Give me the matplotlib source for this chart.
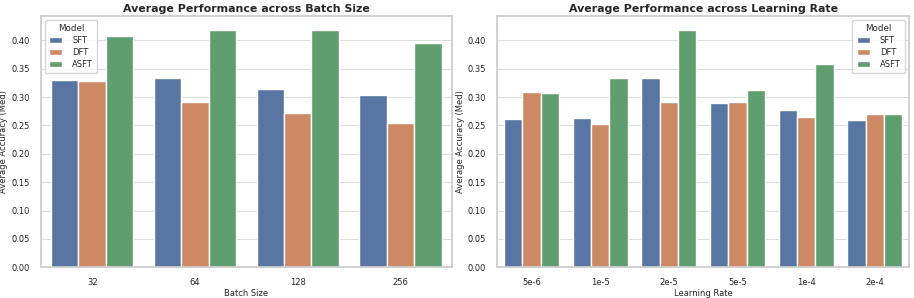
import matplotlib
matplotlib.use("Agg")
import matplotlib.pyplot as plt
import numpy as np
import pandas as pd
import seaborn as sns

models = ["SFT", "DFT", "ASFT"]

batch_sizes = ["32", "64", "128", "256"]
bs_sft = [0.330, 0.333, 0.315, 0.303]
bs_dft = [0.329, 0.291, 0.272, 0.254]
bs_asft = [0.408, 0.419, 0.419, 0.395]

learning_rates = ["5e-6", "1e-5", "2e-5", "5e-5", "1e-4", "2e-4"]
lr_sft = [0.262, 0.263, 0.333, 0.290, 0.277, 0.260]
lr_dft = [0.309, 0.253, 0.291, 0.292, 0.265, 0.271]
lr_asft = [0.308, 0.334, 0.419, 0.312, 0.359, 0.270]

sns.set_theme(style="whitegrid")
plt.rcParams['font.family'] = ['DejaVu Sans']

def make_df(cats, sft, dft, asft, col):
    rows = []
    for name, vals in zip(models, [sft, dft, asft]):
        for c, v in zip(cats, vals):
            rows.append({col: c, "Model": name, "Acc": v})
    return pd.DataFrame(rows)

fig = plt.figure(figsize=(9.14, 2.98), dpi=100)
ax1 = fig.add_axes([40.7/914, 1 - 267.3/298, (452 - 40.7)/914, (267.3 - 16)/298])
ax2 = fig.add_axes([497.3/914, 1 - 267.3/298, (909 - 497.3)/914, (267.3 - 16)/298])

df1 = make_df(batch_sizes, bs_sft, bs_dft, bs_asft, "Batch Size")
df2 = make_df(learning_rates, lr_sft, lr_dft, lr_asft, "Learning Rate")

for ax, df, col, title, loc in [
    (ax1, df1, "Batch Size", "Average Performance across Batch Size", "upper left"),
    (ax2, df2, "Learning Rate", "Average Performance across Learning Rate", "upper right"),
]:
    sns.barplot(data=df, x=col, y="Acc", hue="Model", ax=ax, errorbar=None,
                edgecolor="white", linewidth=1)
    ax.set_title(title, fontsize=7.9, fontweight="bold", pad=3)
    ax.set_xlabel(col, fontsize=6, labelpad=1)
    ax.set_ylabel("Average Accuracy (Med)", fontsize=6, labelpad=2)
    ax.tick_params(axis="both", labelsize=6, pad=2)
    ax.set_yticks(np.arange(0, 0.41, 0.05))
    ax.set_ylim(0, 0.443)
    ax.grid(axis="y", color="#dddddd", linewidth=0.8)
    ax.grid(axis="x", visible=False)
    for s in ax.spines.values():
        s.set_color("#cccccc")
    leg = ax.legend(title="Model", loc=loc, fontsize=6, title_fontsize=6.3,
                    frameon=True, handlelength=1.6, borderpad=0.5,
                    labelspacing=0.35, handletextpad=1.2)

fig.savefig("out.png", dpi=100)
